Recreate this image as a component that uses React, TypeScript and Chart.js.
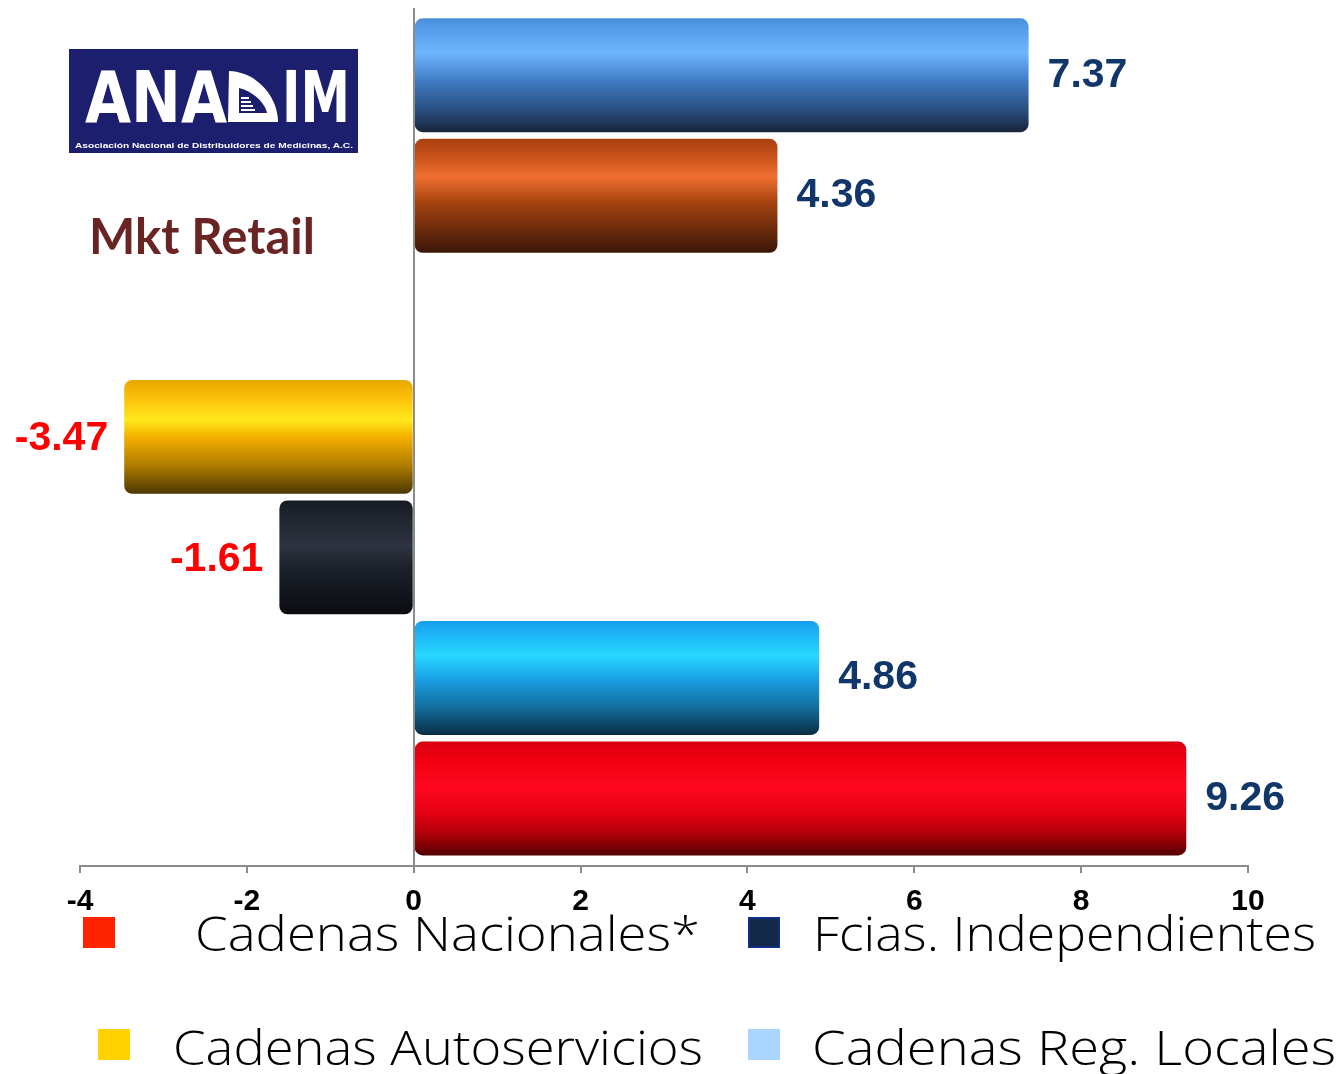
import React, { useEffect, useRef } from 'react';
import { Chart, registerables } from 'chart.js';

Chart.register(...registerables);

// ---- data ----
const barSlots = [0, 1, 3, 4, 5, 6];
const barValues = [7.37, 4.36, -3.47, -1.61, 4.86, 9.26];
const barGradients: [number, string][][] = [
  [[0, '#4a8fdc'], [0.3, '#6fb6ff'], [0.55, '#3f7cc4'], [0.8, '#2a4f80'], [1, '#17243a']],
  [[0, '#a84010'], [0.15, '#c8501a'], [0.33, '#f07030'], [0.55, '#a84510'], [0.8, '#6a2a0c'], [1, '#3a1606']],
  [[0, '#e8a800'], [0.15, '#fbbf0a'], [0.35, '#ffe81a'], [0.5, '#f5b000'], [0.75, '#b07c00'], [1, '#4a3800']],
  [[0, '#161b24'], [0.4, '#2e3440'], [0.6, '#1a1f28'], [1, '#0b0d12']],
  [[0, '#169ff0'], [0.3, '#28d8ff'], [0.5, '#1aa2e8'], [0.75, '#12709e'], [1, '#0a2e44']],
  [[0, '#d80010'], [0.15, '#f00010'], [0.4, '#ff0820'], [0.65, '#e00010'], [0.85, '#a00008'], [1, '#500000']],
];
const xMin = -4;
const xMax = 10;
const xStep = 2;
const legendLabels = ['Cadenas Nacionales*', 'Fcias. Independientes', 'Cadenas Autoservicios', 'Cadenas Reg. Locales'];
const legendColors = ['#ff2400', '#14294a', '#ffd200', '#a9d5ff'];
const titleText = 'Mkt Retail';
const logoSubtitle = 'Asociación Nacional de Distribuidores de Medicinas, A.C.';

const BAR_PCT = 0.945;

export default function App() {
  const canvasRef = useRef<HTMLCanvasElement | null>(null);

  useEffect(() => {
    const canvas = canvasRef.current;
    if (!canvas) return;

    const bg = (ctx: any) => {
      const i = ctx.dataIndex;
      const stops = barGradients[i] || barGradients[0];
      const chart = ctx.chart;
      if (!chart.chartArea || ctx.type !== 'data') return stops[1][1];
      const ys = chart.scales.y;
      const c = ys.getPixelForValue(barSlots[i]);
      const half = (Math.abs(ys.getPixelForValue(1) - ys.getPixelForValue(0)) * BAR_PCT) / 2;
      const g = chart.ctx.createLinearGradient(0, c - half, 0, c + half);
      stops.forEach(([o, col]) => g.addColorStop(o, col));
      return g;
    };

    const valueLabels = {
      id: 'valueLabels',
      afterDatasetsDraw(chart: any) {
        const meta = chart.getDatasetMeta(0);
        const c = chart.ctx;
        c.save();
        c.font = 'bold 41px "Liberation Sans", Arial, sans-serif';
        c.textBaseline = 'middle';
        meta.data.forEach((el: any, i: number) => {
          const v = barValues[i];
          const txt = v.toFixed(2);
          if (v >= 0) {
            c.textAlign = 'left';
            c.fillStyle = '#10366a';
            c.fillText(txt, el.x + 19, el.y);
          } else {
            c.textAlign = 'right';
            c.fillStyle = '#ff0000';
            c.fillText(txt, el.x - 16, el.y + 2);
          }
        });
        c.restore();
      },
    };

    const legendItems = [
      { bx: 83, by: 917, tx: 195, ty: 951, tw: 505 },
      { bx: 748, by: 917, tx: 813, ty: 951, tw: 503 },
      { bx: 98, by: 1029, tx: 173, ty: 1065, tw: 530 },
      { bx: 748, by: 1029, tx: 812, ty: 1065, tw: 524 },
    ];

    const customLegend = {
      id: 'customLegend',
      afterDraw(chart: any) {
        const c = chart.ctx;
        c.save();
        c.font = '300 47px "Open Sans", "DejaVu Sans", sans-serif';
        c.textBaseline = 'alphabetic';
        c.textAlign = 'left';
        legendItems.forEach((it, i) => {
          c.fillStyle = legendColors[i];
          c.fillRect(it.bx, it.by, 32, 31);
          if (i === 1) {
            c.strokeStyle = '#1030a0';
            c.lineWidth = 1.5;
            c.strokeRect(it.bx + 0.75, it.by + 0.75, 30.5, 29.5);
          }
          const w = c.measureText(legendLabels[i]).width;
          c.save();
          c.translate(it.tx, it.ty);
          c.scale(it.tw / w, 1);
          c.fillStyle = '#000000';
          c.fillText(legendLabels[i], 0, 0);
          c.restore();
        });
        c.restore();
      },
    };

    const chart = new Chart(canvas, {
      type: 'bar',
      data: {
        datasets: [
          {
            data: barValues.map((v, i) => ({ x: v, y: barSlots[i] })),
            backgroundColor: bg,
            borderWidth: 0,
            borderRadius: 8,
            borderSkipped: false,
            barPercentage: BAR_PCT,
            categoryPercentage: 1,
          },
        ],
      },
      options: {
        indexAxis: 'y',
        animation: false,
        responsive: false,
        maintainAspectRatio: false,
        layout: { padding: { left: 80, right: 94, top: 8, bottom: 148 } },
        plugins: { legend: { display: false }, tooltip: { enabled: false } },
        scales: {
          y: {
            type: 'linear',
            reverse: true,
            offset: false,
            min: -0.558,
            max: 6.56,
            display: false,
            ticks: { stepSize: 1, includeBounds: false },
          },
          x: {
            type: 'linear',
            min: xMin,
            max: xMax,
            position: 'bottom',
            afterFit: (s: any) => {
              s.height = 60;
            },
            grid: {
              z: 1,
              color: (c: any) => (c.tick && c.tick.value === 0 ? '#8c8c8c' : 'rgba(0,0,0,0)'),
              lineWidth: 2,
              tickColor: '#8c8c8c',
              tickLength: 7,
              drawTicks: true,
            },
            border: { display: true, color: '#8c8c8c', width: 2, z: 2 },
            ticks: {
              stepSize: xStep,
              color: '#000000',
              padding: 11,
              font: { family: '"Liberation Sans", Arial, sans-serif', size: 30, weight: 'bold' },
              maxRotation: 0,
            },
          },
        },
      },
      plugins: [valueLabels, customLegend],
    } as any);

    return () => chart.destroy();
  }, []);

  return (
    <div style={{ position: 'absolute', left: 0, top: 0, width: 1342, height: 1074, background: '#ffffff' }}>
      <canvas ref={canvasRef} width={1342} height={1074} style={{ position: 'absolute', left: 0, top: 0, width: 1342, height: 1074 }} />
      <svg width={1342} height={1074} style={{ position: 'absolute', left: 0, top: 0, pointerEvents: 'none' }}>
        <rect x={69} y={49} width={289} height={104} fill="#1c1f6d" />
        <text x={85} y={122} textLength={142} lengthAdjust="spacingAndGlyphs" fill="#ffffff"
          style={{ font: 'bold 72px "DejaVu Sans", sans-serif' }}>ANA</text>
        <path d="M229,71 C258,72 278,98 278,122 L228,122 Z" fill="#ffffff" />
        <path d="M239,88 C256,92 266,106 267,113 L239,113 Z" fill="#1c1f6d" />
        <rect x={241} y={97} width={8} height={2} fill="#ffffff" />
        <rect x={241} y={101} width={10} height={2} fill="#ffffff" />
        <rect x={241} y={105} width={12} height={2} fill="#ffffff" />
        <rect x={241} y={109} width={14} height={2} fill="#ffffff" />
        <text x={282} y={122} textLength={68} lengthAdjust="spacingAndGlyphs" fill="#ffffff"
          style={{ font: 'bold 72px "DejaVu Sans", sans-serif' }}>IM</text>
        <text x={75} y={148} textLength={278} lengthAdjust="spacingAndGlyphs" fill="#ffffff"
          style={{ font: 'bold 8px "Liberation Sans", Arial, sans-serif' }}>{logoSubtitle}</text>
        <text x={89} y={254} textLength={226} lengthAdjust="spacingAndGlyphs" fill="#6b2424"
          style={{ font: 'bold 50px Lato, "Open Sans", sans-serif' }}>{titleText}</text>
      </svg>
    </div>
  );
}
